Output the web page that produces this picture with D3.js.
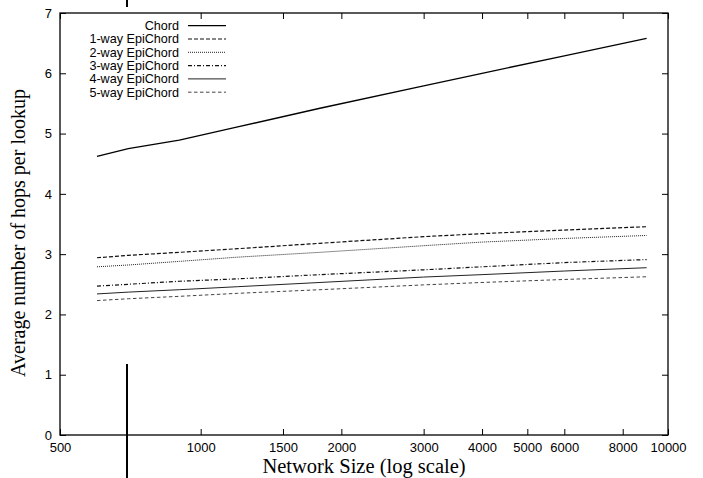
<!DOCTYPE html>
<html><head><meta charset="utf-8">
<script src="https://cdn.jsdelivr.net/npm/d3@7"></script>
<style>body{margin:0;background:#fff}svg{display:block}</style>
</head><body>
<script>
const networkSizes = [600, 700, 900, 1200, 1800, 3000, 4000, 6000, 9000];
const chord   = [4.62, 4.75, 4.89, 5.11, 5.42, 5.79, 6.00, 6.29, 6.58];
const epi1    = [2.94, 2.98, 3.03, 3.09, 3.18, 3.29, 3.34, 3.40, 3.455];
const epi2    = [2.79, 2.82, 2.88, 2.95, 3.03, 3.14, 3.20, 3.26, 3.31];
const epi3    = [2.47, 2.50, 2.55, 2.59, 2.66, 2.74, 2.79, 2.86, 2.91];
const epi4    = [2.34, 2.37, 2.41, 2.46, 2.53, 2.62, 2.66, 2.72, 2.775];
const epi5    = [2.23, 2.26, 2.30, 2.35, 2.41, 2.49, 2.53, 2.58, 2.625];
const seriesNames = ["Chord", "1-way EpiChord", "2-way EpiChord", "3-way EpiChord", "4-way EpiChord", "5-way EpiChord"];
const xTicks = [500, 1000, 1500, 2000, 3000, 4000, 5000, 6000, 8000, 10000];
const yTicks = [0, 1, 2, 3, 4, 5, 6, 7];

const allSeries = [chord, epi1, epi2, epi3, epi4, epi5];
const styles = [
  {dash: null, w: 1.3, c: "#000"},
  {dash: "4,2", w: 1.2, c: "#111"},
  {dash: "1,1", w: 1.0, c: "#222"},
  {dash: "4,2,1,2", w: 1.2, c: "#111"},
  {dash: null, w: 1.0, c: "#222"},
  {dash: "3.5,2.5", w: 1.0, c: "#444"}
];

const W = 703, H = 478;
const L = 60, R = 668, T = 13, B = 435;
const svg = d3.select("body").append("svg").attr("width", W).attr("height", H);

const x = d3.scaleLog().domain([500, 10000]).range([L, R]);
const y = d3.scaleLinear().domain([0, 7]).range([B, T]);

const tickFont = "'Liberation Sans', Arial, sans-serif";
const serif = "'Liberation Serif', 'Times New Roman', serif";

// frame
svg.append("rect").attr("x", L).attr("y", T).attr("width", R - L).attr("height", B - T)
  .attr("fill", "none").attr("stroke", "#000").attr("stroke-width", 1.3);

// axes (ticks inward)
const xAxisB = d3.axisBottom(x).tickValues(xTicks).tickSize(-6).tickPadding(8).tickFormat(d3.format("d"));
const gxb = svg.append("g").attr("transform", `translate(0,${B})`).call(xAxisB);
const xAxisT = d3.axisTop(x).tickValues(xTicks).tickSize(-6).tickFormat("");
const gxt = svg.append("g").attr("transform", `translate(0,${T})`).call(xAxisT);
const yAxisL = d3.axisLeft(y).tickValues(yTicks).tickSize(-6).tickPadding(8).tickFormat(d3.format("d"));
const gyl = svg.append("g").attr("transform", `translate(${L},0)`).call(yAxisL);
const yAxisR = d3.axisRight(y).tickValues(yTicks).tickSize(-6).tickFormat("");
const gyr = svg.append("g").attr("transform", `translate(${R},0)`).call(yAxisR);
[gxb, gxt, gyl, gyr].forEach(g => {
  g.select(".domain").remove();
  g.selectAll(".tick line").attr("stroke", "#000").attr("stroke-width", 1);
  g.selectAll("text").attr("font-family", tickFont).attr("font-size", 13).attr("fill", "#000");
});
gxb.selectAll(".tick text").attr("dy", "0.71em");

// series lines
const line = d3.line().x((d, i) => x(networkSizes[i])).y(d => y(d));
allSeries.forEach((s, i) => {
  svg.append("path").datum(s).attr("d", line).attr("fill", "none")
    .attr("stroke", styles[i].c).attr("stroke-width", styles[i].w)
    .attr("stroke-dasharray", styles[i].dash);
});

// legend
const legX = 179, legY0 = 25.7, legDy = 13.3;
seriesNames.forEach((n, i) => {
  const yy = legY0 + i * legDy;
  svg.append("text").attr("x", legX).attr("y", yy).attr("dy", "0.35em")
    .attr("text-anchor", "end").attr("font-family", tickFont).attr("font-size", 12.6)
    .attr("textLength", null).text(n);
  svg.append("line").attr("x1", 188).attr("x2", 226).attr("y1", yy).attr("y2", yy)
    .attr("stroke", styles[i].c).attr("stroke-width", styles[i].w)
    .attr("stroke-dasharray", styles[i].dash);
});

// axis titles
svg.append("text").attr("x", (L + R) / 2).attr("y", 473).attr("text-anchor", "middle")
  .attr("font-family", serif).attr("font-size", 20.5).text("Network Size (log scale)");
svg.append("text").attr("transform", `translate(25,${(T + B) / 2 + 9}) rotate(-90)`)
  .attr("text-anchor", "middle").attr("font-family", serif).attr("font-size", 20)
  .text("Average number of hops per lookup");

// stray vertical marks present in the original figure
svg.append("line").attr("x1", 127).attr("x2", 127).attr("y1", 0).attr("y2", 7)
  .attr("stroke", "#000").attr("stroke-width", 2);
svg.append("line").attr("x1", 127).attr("x2", 127).attr("y1", 364).attr("y2", 478)
  .attr("stroke", "#000").attr("stroke-width", 2);
</script>
</body></html>
